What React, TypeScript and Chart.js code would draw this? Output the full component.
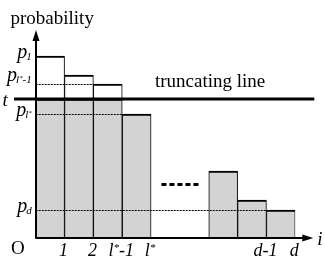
import React, { useEffect, useRef } from 'react';
import { Chart, registerables } from 'chart.js';

Chart.register(...registerables);

// ---------- data ----------
const categories = ['1', '2', 'l*-1', 'l*', '', '', 'd-2', 'd-1', 'd'];
const probabilities: (number | null)[] = [0.182, 0.163, 0.154, 0.124, null, null, 0.067, 0.038, 0.028];
const truncation = 0.139;
const yMax = 0.208;
const ellipsisLevel = 0.0535;

const xTickValues = [1, 2, 3, 4, 8, 9];
const xTickLabels = ['1', '2', 'l*-1', 'l*', 'd-1', 'd'];

// y labels: subscript text, value, dotted guide end (slot boundary) or null
const yLabelSubs = ['1', 'l*-1', 'l*', 'd'];
const yLabelValues = [probabilities[0] as number, probabilities[2] as number, probabilities[3] as number, probabilities[8] as number];
const yGuideEnds: (number | null)[] = [null, 2, 3, 8];

const GREY = '#d3d3d3';
const SERIF = '"Liberation Serif", "Times New Roman", serif';

const below = probabilities.map((p) => (p == null ? null : Math.min(p, truncation)));
const above = probabilities.map((p) => (p == null || p <= truncation ? null : p - truncation));

function richWidth(ctx: CanvasRenderingContext2D, text: string, size: number) {
  let w = 0;
  for (const part of text.split(/(\*)/)) {
    if (!part) continue;
    ctx.font = `italic ${part === '*' ? size * 0.62 : size}px ${SERIF}`;
    w += ctx.measureText(part).width;
  }
  return w;
}

function drawRich(ctx: CanvasRenderingContext2D, text: string, x: number, y: number, size: number, align: 'left' | 'center' | 'right') {
  const total = richWidth(ctx, text, size);
  let cx = align === 'left' ? x : align === 'center' ? x - total / 2 : x - total;
  ctx.textAlign = 'left';
  ctx.textBaseline = 'alphabetic';
  for (const part of text.split(/(\*)/)) {
    if (!part) continue;
    const star = part === '*';
    const s = star ? size * 0.62 : size;
    ctx.font = `italic ${s}px ${SERIF}`;
    ctx.fillText(part, cx, y + (star ? -size * 0.3 : 0));
    cx += ctx.measureText(part).width;
  }
  return total;
}

const schematic = {
  id: 'schematic',
  afterDatasetsDraw(chart: any) {
    const { ctx, scales, chartArea } = chart;
    const xs = scales.x;
    const ys = scales.y;
    const bx = (k: number) => xs.getPixelForValue(k - 0.5); // slot boundary k
    const x0 = bx(0);
    const y0 = ys.getPixelForValue(0);
    const yTop = ys.getPixelForValue(yMax);
    const xEnd = chartArea.right + 18;
    ctx.save();
    ctx.fillStyle = '#000';
    ctx.strokeStyle = '#000';

    // dotted guides
    ctx.lineWidth = 1;
    ctx.setLineDash([2, 1]);
    yLabelValues.forEach((v, i) => {
      const end = yGuideEnds[i];
      if (end == null) return;
      const py = Math.round(ys.getPixelForValue(v)) + 0.5;
      ctx.beginPath();
      ctx.moveTo(x0, py);
      ctx.lineTo(bx(end), py);
      ctx.stroke();
    });

    // ellipsis dashes between the two groups
    ctx.lineWidth = 3;
    ctx.setLineDash([5, 3]);
    const ey = ys.getPixelForValue(ellipsisLevel);
    const ec = bx(5);
    ctx.beginPath();
    ctx.moveTo(ec - 18.5, ey);
    ctx.lineTo(ec + 19.5, ey);
    ctx.stroke();
    ctx.setLineDash([]);

    // axes
    ctx.lineWidth = 2;
    ctx.beginPath();
    ctx.moveTo(x0 + 0.3, y0);
    ctx.lineTo(x0 + 0.3, yTop + 8);
    ctx.moveTo(x0 - 0.5, y0);
    ctx.lineTo(xEnd - 8, y0);
    ctx.stroke();
    ctx.beginPath();
    ctx.moveTo(x0 + 0.3, yTop);
    ctx.lineTo(x0 + 0.3 - 3.5, yTop + 11);
    ctx.lineTo(x0 + 0.3 + 3.5, yTop + 11);
    ctx.closePath();
    ctx.fill();
    ctx.beginPath();
    ctx.moveTo(xEnd, y0);
    ctx.lineTo(xEnd - 11, y0 - 3.5);
    ctx.lineTo(xEnd - 11, y0 + 3.5);
    ctx.closePath();
    ctx.fill();

    // truncating line
    const ty = ys.getPixelForValue(truncation);
    ctx.lineWidth = 3;
    ctx.beginPath();
    ctx.moveTo(14, ty);
    ctx.lineTo(xEnd + 1, ty);
    ctx.stroke();

    // texts
    ctx.textBaseline = 'alphabetic';
    ctx.textAlign = 'left';
    ctx.font = `19px ${SERIF}`;
    ctx.fillText('probability', 10.5, 24);
    ctx.fillText('truncating line', 155, ty - 12);
    ctx.fillText('O', 11, 254);

    ctx.font = `italic 19px ${SERIF}`;
    ctx.fillText('t', 2.5, ty + 6.5);
    ctx.fillText('i', xEnd + 4, y0 + 7);

    // y labels p_sub
    yLabelValues.forEach((v, i) => {
      // the second label is lifted a little so it does not crowd the t line
      const py = ys.getPixelForValue(v) + (i === 1 ? -3 : 2);
      const subW = richWidth(ctx, yLabelSubs[i], 11);
      const right = x0 - 4;
      drawRich(ctx, yLabelSubs[i], right - subW, py + 2, 11, 'left');
      ctx.font = `italic 20px ${SERIF}`;
      ctx.textAlign = 'right';
      ctx.fillText('p', right - subW + 1, py);
    });

    // x tick labels
    xTickValues.forEach((v, i) => {
      drawRich(ctx, xTickLabels[i], bx(v) - 1, 256, 18, 'center');
    });

    ctx.restore();
  },
};

export default function App() {
  const ref = useRef<HTMLCanvasElement>(null);
  useEffect(() => {
    const chart = new Chart(ref.current as HTMLCanvasElement, {
      type: 'bar',
      data: {
        labels: categories,
        datasets: [
          {
            data: below as any,
            backgroundColor: GREY,
            borderColor: '#000',
            borderWidth: { top: 2, left: 1, right: 1, bottom: 0 } as any,
            borderSkipped: 'start',
            barPercentage: 1,
            categoryPercentage: 1,
          },
          {
            data: above as any,
            backgroundColor: '#fff',
            borderColor: '#000',
            borderWidth: { top: 2, left: 1, right: 1, bottom: 0 } as any,
            borderSkipped: 'start',
            barPercentage: 1,
            categoryPercentage: 1,
          },
        ],
      },
      options: {
        responsive: false,
        animation: false,
        devicePixelRatio: 1,
        events: [],
        layout: { padding: { left: 35.7, right: 29.7, top: 30, bottom: 25 } },
        plugins: { legend: { display: false }, tooltip: { enabled: false } },
        scales: {
          x: { display: false, stacked: true, offset: true },
          y: { display: false, stacked: true, min: 0, max: yMax },
        },
      },
      plugins: [schematic],
    });
    return () => chart.destroy();
  }, []);
  return (
    <div style={{ position: 'fixed', left: 0, top: 0, width: 325, height: 263, background: '#fff' }}>
      <canvas ref={ref} width={325} height={263} style={{ display: 'block', width: 325, height: 263 }} />
    </div>
  );
}
